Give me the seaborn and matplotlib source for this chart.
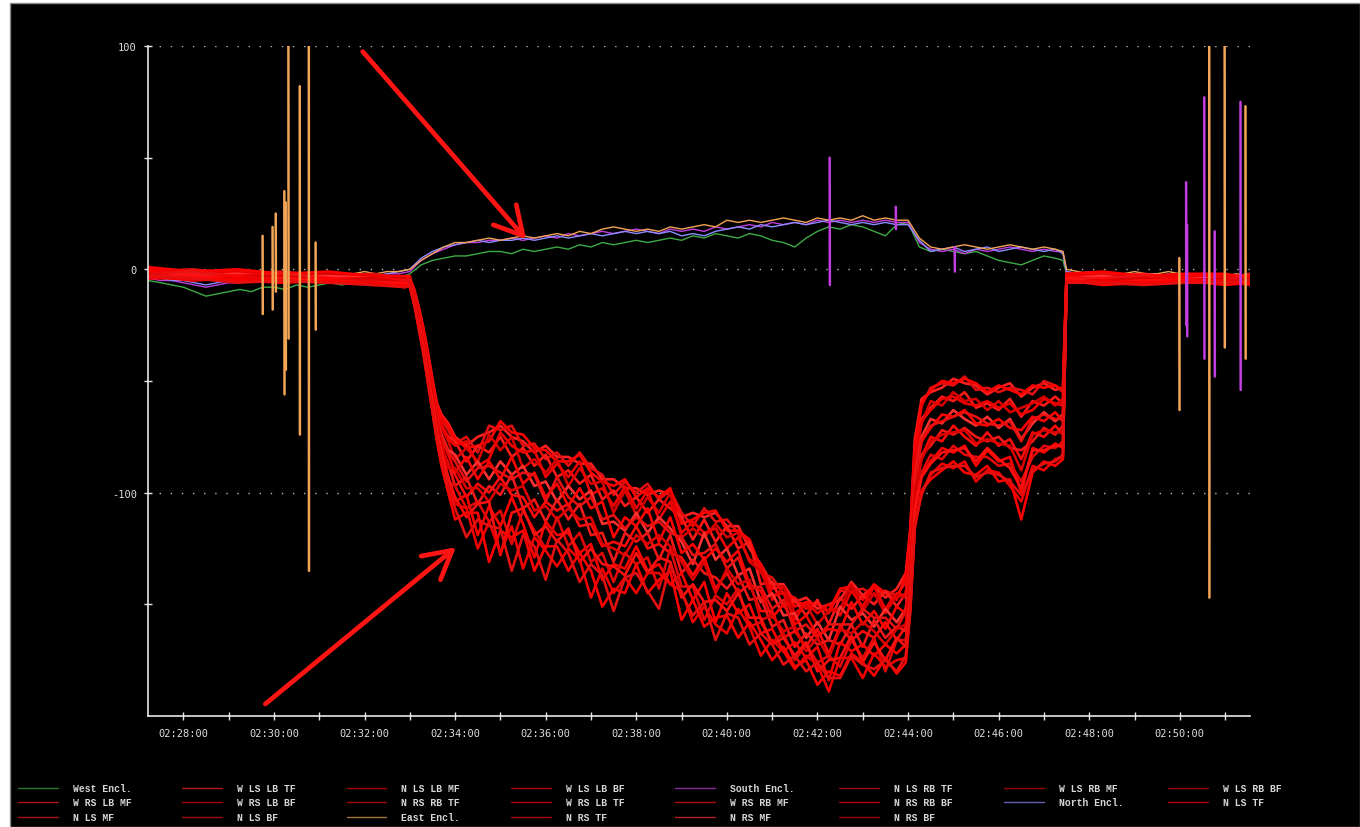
import matplotlib
matplotlib.use("Agg")
import matplotlib.pyplot as plt
from matplotlib.lines import Line2D
from matplotlib.patches import Rectangle
from matplotlib.ticker import FixedLocator
import pandas as pd
import seaborn as sns

# ---------------- data (minutes after 02:00, sensor value) ----------------
red_t = [27.22, 28.2, 29.2, 30.2, 31.2, 32.2, 32.9,
         33.0, 33.1, 33.2, 33.3, 33.4, 33.5, 33.6, 33.7, 33.85,
         34.0, 34.25, 34.5, 34.75, 35.0, 35.25, 35.5, 35.75, 36.0, 36.25,
         36.5, 36.75, 37.0, 37.25, 37.5, 37.75, 38.0, 38.25, 38.5, 38.75,
         39.0, 39.25, 39.5, 39.75, 40.0, 40.25, 40.5, 40.75, 41.0, 41.25,
         41.5, 41.75, 42.0, 42.25, 42.5, 42.75, 43.0, 43.25, 43.5, 43.75,
         43.95, 44.05, 44.15, 44.3,
         44.5, 44.75, 45.0, 45.25, 45.5, 45.75, 46.0, 46.25, 46.5, 46.75, 47.0, 47.25, 47.42,
         47.5, 48.3, 49.2, 50.1, 51.0, 51.55]

w_ls_lb_tf = [0, -1, -1, -2, -2, -3, -4,
              -4, -9, -17, -26, -37, -49, -60, -65, -69,
              -75, -79, -75, -73, -70, -75, -77, -82, -79, -84,
              -84, -87, -87, -94, -94, -98, -98, -101, -99, -101,
              -111, -109, -111, -109, -115, -115, -125, -132, -141, -141,
              -149, -147, -152, -150, -148, -140, -146, -142, -147, -143,
              -136, -116, -76, -58,
              -55, -53, -49, -51, -52, -56, -53, -51, -57, -53, -51, -54, -53,
              -2, -3, -2, -4, -3, -3]
n_ls_rb_tf = [-1, 0, -2, -1, -3, -2, -4,
              -5, -10, -19, -28, -39, -51, -62, -67, -72,
              -78, -75, -82, -70, -72, -70, -79, -78, -85, -82,
              -88, -82, -89, -92, -101, -95, -100, -96, -103, -99,
              -109, -115, -107, -113, -112, -118, -122, -136, -138, -145,
              -147, -152, -149, -154, -144, -144, -143, -146, -144, -146,
              -140, -119, -80, -61,
              -53, -51, -52, -48, -54, -53, -55, -53, -54, -56, -50, -52, -55,
              -3, -2, -3, -3, -4, -2]
w_rs_lb_tf = [1, -1, 0, -2, -1, -3, -3,
              -3, -11, -18, -27, -38, -50, -61, -66, -70,
              -76, -80, -79, -77, -68, -73, -74, -80, -81, -86,
              -86, -83, -91, -95, -97, -94, -102, -98, -102, -98,
              -114, -112, -109, -108, -117, -117, -121, -134, -143, -142,
              -151, -149, -150, -153, -143, -142, -148, -141, -145, -148,
              -137, -117, -79, -60,
              -54, -50, -51, -49, -51, -55, -52, -54, -56, -52, -53, -52, -54,
              -2, -1, -3, -2, -2, -4]
w_rs_lb_mf = [-2, -1, -3, -2, -3, -4, -5,
              -5, -11, -20, -29, -40, -52, -63, -70, -75,
              -77, -86, -79, -82, -75, -84, -80, -88, -83, -93,
              -90, -96, -92, -103, -99, -106, -102, -109, -103, -107,
              -111, -121, -112, -122, -115, -125, -122, -141, -140, -151,
              -148, -155, -148, -159, -147, -152, -146, -150, -144, -151,
              -145, -124, -87, -67,
              -62, -57, -59, -55, -62, -60, -63, -58, -66, -59, -61, -57, -60,
              -3, -4, -3, -5, -4, -3]
w_ls_rb_mf = [-1, -2, -2, -3, -2, -4, -4,
              -6, -12, -21, -30, -42, -53, -65, -71, -77,
              -85, -80, -86, -74, -81, -75, -89, -85, -91, -85,
              -97, -89, -96, -95, -109, -99, -110, -102, -109, -100,
              -120, -116, -120, -114, -120, -118, -131, -135, -148, -142,
              -154, -150, -159, -153, -152, -141, -153, -145, -154, -146,
              -147, -126, -85, -69,
              -59, -61, -55, -59, -58, -63, -59, -64, -62, -60, -57, -61, -58,
              -4, -3, -4, -3, -5, -4]
n_ls_lb_mf = [0, -2, -1, -3, -3, -3, -5,
              -4, -10, -19, -28, -41, -51, -64, -69, -76,
              -79, -77, -88, -85, -73, -79, -82, -81, -93, -87,
              -93, -86, -101, -98, -106, -97, -107, -99, -112, -104,
              -118, -113, -118, -116, -125, -120, -130, -132, -146, -145,
              -157, -149, -154, -150, -155, -144, -151, -142, -152, -145,
              -146, -125, -86, -68,
              -63, -58, -57, -60, -61, -59, -62, -60, -65, -63, -58, -60, -61,
              -2, -3, -4, -3, -3, -5]
n_rs_mf = [-2, -3, -2, -4, -3, -4, -6,
           -5, -12, -21, -31, -43, -55, -67, -74, -81,
           -83, -92, -86, -94, -86, -92, -88, -97, -95, -104,
           -97, -103, -99, -114, -113, -117, -109, -118, -111, -116,
           -122, -132, -118, -130, -125, -137, -134, -149, -145, -155,
           -154, -165, -158, -166, -151, -157, -154, -160, -152, -158,
           -152, -131, -93, -75,
           -67, -69, -63, -67, -70, -66, -71, -67, -76, -69, -64, -68, -65,
           -4, -3, -5, -4, -4, -6]
n_ls_tf = [-1, -2, -3, -3, -4, -4, -5,
           -6, -13, -22, -32, -44, -56, -68, -76, -83,
           -91, -84, -94, -86, -94, -84, -96, -91, -102, -96,
           -106, -98, -107, -104, -120, -111, -115, -107, -122, -111,
           -127, -123, -130, -125, -131, -126, -141, -144, -156, -150,
           -159, -155, -164, -161, -162, -149, -159, -153, -161, -151,
           -154, -133, -95, -77,
           -71, -65, -66, -63, -69, -70, -67, -71, -72, -66, -68, -64, -68,
           -3, -5, -4, -4, -5, -3]
n_ls_bf = [-2, -1, -3, -2, -4, -5, -5,
           -5, -12, -20, -30, -42, -54, -66, -75, -82,
           -86, -95, -89, -88, -91, -94, -91, -92, -104, -93,
           -102, -106, -102, -112, -110, -116, -111, -115, -113, -118,
           -120, -128, -127, -123, -134, -129, -143, -142, -152, -148,
           -162, -159, -165, -159, -159, -159, -152, -156, -156, -161,
           -153, -132, -94, -76,
           -70, -68, -66, -64, -66, -69, -70, -68, -77, -67, -65, -67, -67,
           -4, -4, -3, -5, -4, -4]
n_rs_tf = [-2, -3, -3, -4, -4, -5, -6,
           -6, -13, -23, -33, -45, -57, -70, -79, -88,
           -92, -102, -96, -100, -93, -101, -102, -111, -104, -108,
           -105, -115, -114, -124, -122, -124, -115, -125, -123, -127,
           -129, -137, -129, -143, -136, -145, -141, -153, -153, -165,
           -162, -169, -161, -172, -160, -166, -162, -165, -158, -166,
           -160, -138, -101, -84,
           -75, -77, -70, -75, -79, -73, -79, -76, -85, -73, -75, -70, -74,
           -5, -4, -5, -4, -6, -5]
n_ls_mf = [-3, -2, -4, -3, -4, -5, -6,
           -7, -14, -24, -34, -46, -58, -71, -80, -87,
           -97, -93, -105, -97, -101, -92, -107, -103, -113, -103,
           -112, -105, -119, -118, -131, -118, -122, -118, -130, -119,
           -136, -130, -136, -138, -143, -137, -148, -147, -160, -157,
           -169, -163, -168, -166, -168, -159, -169, -157, -165, -160,
           -162, -139, -102, -83,
           -79, -72, -74, -71, -75, -77, -75, -80, -81, -77, -71, -74, -70,
           -4, -5, -4, -6, -5, -4]
n_rs_bf = [-2, -4, -3, -3, -5, -4, -6,
           -6, -13, -22, -33, -44, -56, -69, -78, -89,
           -89, -98, -98, -104, -96, -99, -97, -108, -106, -112,
           -107, -112, -111, -123, -125, -128, -119, -123, -119, -124,
           -131, -139, -131, -145, -134, -141, -139, -157, -155, -162,
           -160, -171, -165, -174, -161, -163, -158, -162, -168, -161,
           -159, -137, -100, -85,
           -77, -74, -73, -72, -78, -76, -78, -79, -90, -74, -72, -73, -73,
           -5, -5, -4, -5, -4, -6]
w_ls_lb_bf = [-3, -4, -3, -5, -4, -6, -7,
              -7, -14, -24, -35, -47, -60, -73, -83, -94,
              -104, -101, -119, -106, -115, -102, -114, -129, -113, -119,
              -118, -127, -123, -139, -132, -134, -124, -135, -132, -141,
              -136, -148, -140, -158, -145, -154, -150, -163, -161, -171,
              -167, -174, -169, -184, -167, -171, -168, -173, -168, -172,
              -168, -145, -108, -92,
              -86, -80, -82, -79, -88, -81, -86, -84, -100, -80, -82, -78, -80,
              -5, -6, -5, -4, -6, -5]
w_ls_rb_bf = [-2, -4, -4, -4, -5, -5, -7,
              -6, -14, -25, -36, -48, -61, -74, -84, -95,
              -97, -107, -104, -113, -108, -123, -108, -117, -125, -111,
              -124, -118, -131, -127, -140, -127, -132, -129, -143, -125,
              -142, -142, -157, -146, -150, -143, -160, -158, -167, -163,
              -175, -168, -176, -173, -178, -166, -174, -165, -180, -166,
              -166, -146, -109, -91,
              -83, -85, -79, -83, -84, -84, -88, -87, -95, -84, -79, -80, -77,
              -6, -5, -6, -5, -5, -4]
w_rs_rb_mf = [-3, -3, -5, -4, -5, -6, -6,
              -7, -15, -24, -35, -47, -59, -72, -82, -93,
              -102, -111, -105, -104, -128, -109, -107, -119, -115, -122,
              -116, -131, -125, -132, -133, -137, -127, -136, -129, -131,
              -147, -141, -149, -148, -153, -145, -156, -156, -168, -165,
              -173, -167, -180, -175, -174, -164, -176, -167, -175, -165,
              -169, -144, -107, -93,
              -87, -82, -81, -80, -86, -80, -85, -89, -98, -81, -81, -79, -79,
              -4, -6, -5, -5, -6, -6]
w_rs_lb_bf = [-3, -5, -4, -5, -6, -6, -8,
              -7, -15, -26, -37, -50, -63, -76, -87, -99,
              -105, -107, -125, -113, -127, -115, -134, -120, -126, -133,
              -125, -130, -147, -134, -145, -138, -145, -136, -136, -141,
              -144, -158, -151, -159, -163, -152, -160, -173, -166, -171,
              -179, -173, -177, -189, -174, -174, -183, -172, -178, -175,
              -174, -152, -115, -100,
              -92, -87, -89, -86, -95, -90, -91, -97, -104, -88, -90, -85, -84,
              -6, -5, -6, -6, -5, -7]
n_rs_rb_bf = [-4, -4, -5, -6, -5, -7, -7,
              -8, -16, -27, -38, -51, -64, -77, -88, -100,
              -112, -109, -109, -131, -117, -120, -117, -135, -124, -124,
              -135, -127, -135, -151, -143, -145, -132, -145, -139, -135,
              -157, -148, -160, -156, -155, -165, -158, -166, -175, -169,
              -178, -175, -186, -180, -182, -172, -176, -182, -174, -181,
              -176, -153, -116, -99,
              -94, -90, -86, -91, -92, -88, -95, -94, -112, -91, -86, -88, -85,
              -5, -7, -6, -5, -7, -6]
n_rs_rb_tf = [-3, -4, -6, -5, -6, -7, -8,
              -7, -16, -26, -37, -50, -63, -75, -86, -98,
              -107, -120, -112, -115, -116, -135, -119, -124, -139, -121,
              -127, -140, -132, -137, -153, -138, -136, -144, -152, -132,
              -145, -155, -149, -166, -154, -156, -168, -163, -168, -177,
              -173, -180, -176, -183, -183, -173, -177, -179, -175, -180,
              -173, -151, -114, -101,
              -91, -89, -88, -88, -93, -91, -92, -95, -101, -90, -87, -86, -83,
              -6, -6, -7, -6, -6, -5]

encl_t = [27.22, 27.5, 27.75, 28.0, 28.25, 28.5, 28.75, 29.0, 29.25, 29.5,
          29.75, 30.0, 30.25, 30.5, 30.75, 31.0, 31.25, 31.5, 31.75, 32.0,
          32.25, 32.5, 32.75, 33.0, 33.25, 33.5, 33.75, 34.0, 34.25, 34.5,
          34.75, 35.0, 35.25, 35.5, 35.75, 36.0, 36.25, 36.5, 36.75, 37.0,
          37.25, 37.5, 37.75, 38.0, 38.25, 38.5, 38.75, 39.0, 39.25, 39.5,
          39.75, 40.0, 40.25, 40.5, 40.75, 41.0, 41.25, 41.5, 41.75, 42.0,
          42.25, 42.5, 42.75, 43.0, 43.25, 43.5, 43.75, 44.0, 44.25, 44.5,
          44.75, 45.0, 45.25, 45.5, 45.75, 46.0, 46.25, 46.5, 46.75, 47.0,
          47.25, 47.42, 47.5, 47.75, 48.0, 48.25, 48.5, 48.75, 49.0, 49.25,
          49.5, 49.75, 50.0, 50.25, 50.5, 50.75, 51.0, 51.25, 51.55]
west_encl = [-5, -6, -7, -8, -10, -12, -11, -10, -9, -10,
             -8, -8, -9, -7, -8, -7, -6, -7, -6, -5,
             -5, -4, -4, -2, 2, 4, 5, 6, 6, 7,
             8, 8, 7, 9, 8, 9, 10, 9, 11, 10,
             12, 11, 12, 13, 12, 13, 14, 13, 15, 14,
             16, 15, 14, 16, 15, 13, 12, 10, 14, 17,
             19, 18, 20, 19, 17, 15, 20, 21, 10, 8,
             9, 8, 7, 8, 6, 4, 3, 2, 4, 6,
             5, 4, -2, -3, -2, -3, -4, -3, -2, -3,
             -4, -3, -3, -4, -2, -3, -4, -3, -4]
south_encl = [-4, -5, -5, -6, -7, -8, -7, -6, -6, -5,
              -5, -4, -5, -4, -4, -5, -4, -3, -4, -3,
              -3, -2, -2, -1, 4, 7, 9, 11, 12, 12,
              13, 13, 14, 13, 14, 15, 14, 16, 15, 16,
              17, 16, 17, 18, 17, 16, 18, 17, 18, 17,
              19, 18, 19, 20, 19, 21, 20, 21, 20, 22,
              21, 22, 21, 22, 21, 22, 21, 21, 12, 9,
              8, 9, 7, 9, 8, 9, 10, 9, 8, 9,
              8, 8, -1, -2, -2, -3, -2, -3, -2, -3,
              -3, -2, -3, -4, -3, -3, -4, -3, -4]
north_encl = [-3, -4, -5, -5, -6, -7, -6, -5, -5, -4,
              -4, -5, -4, -3, -4, -3, -4, -3, -3, -2,
              -3, -2, -1, 0, 5, 8, 10, 11, 12, 13,
              12, 13, 13, 14, 13, 14, 15, 14, 15, 16,
              15, 16, 17, 16, 17, 16, 17, 15, 16, 15,
              17, 18, 19, 18, 20, 19, 20, 21, 20, 21,
              22, 21, 20, 21, 20, 21, 20, 20, 13, 8,
              9, 10, 8, 9, 10, 8, 9, 10, 9, 8,
              9, 7, -1, -2, -1, -2, -3, -2, -2, -3,
              -2, -3, -2, -3, -3, -2, -3, -4, -3]
east_encl = [-1, -2, -2, -3, -4, -4, -3, -3, -4, -3,
             -2, -3, -3, -2, -3, -2, -3, -2, -2, -1,
             -2, -1, -1, 0, 4, 7, 10, 12, 12, 13,
             14, 13, 14, 15, 14, 15, 16, 15, 17, 16,
             18, 19, 18, 17, 18, 17, 19, 18, 19, 20,
             19, 22, 21, 22, 21, 22, 23, 22, 21, 23,
             22, 23, 22, 24, 22, 23, 22, 22, 14, 10,
             9, 10, 11, 10, 9, 10, 11, 10, 9, 10,
             9, 8, 0, -1, -2, -1, -2, -2, -1, -2,
             -2, -1, -2, -3, -2, -2, -3, -2, -3]

# short spikes (time, top value, bottom value)
east_spike_t = [29.75, 29.97, 30.04, 30.23, 30.26, 30.32, 30.57, 30.77, 30.92, 49.99, 50.65, 50.99, 51.45]
east_spike_hi = [15, 19, 25, 35, 30, 100, 82, 100, 12, 5, 100, 100, 73]
east_spike_lo = [-20, -18, -10, -56, -45, -31, -74, -135, -27, -63, -147, -35, -40]
south_spike_t = [42.27, 43.73, 45.03, 50.14, 50.16, 50.54, 50.77, 51.34]
south_spike_hi = [50, 28, 10, 39, 20, 77, 17, 75]
south_spike_lo = [-7, 18, -1, -25, -30, -40, -48, -54]

x_ticks = [28, 30, 32, 34, 36, 38, 40, 42, 44, 46, 48, 50]
x_tick_labels = ["02:28:00", "02:30:00", "02:32:00", "02:34:00", "02:36:00", "02:38:00",
                 "02:40:00", "02:42:00", "02:44:00", "02:46:00", "02:48:00", "02:50:00"]
x_minor = [29, 31, 33, 35, 37, 39, 41, 43, 45, 47, 49, 51]
y_ticks = [-100, 0, 100]
y_minor = [-150, -50, 50]

legend_order = ["West Encl.", "W RS LB MF", "N LS MF",
                "W LS LB TF", "W RS LB BF", "N LS BF",
                "N LS LB MF", "N RS RB TF", "East Encl.",
                "W LS LB BF", "W RS LB TF", "N RS TF",
                "South Encl.", "W RS RB MF", "N RS MF",
                "N LS RB TF", "N RS RB BF", "N RS BF",
                "W LS RB MF", "North Encl.",
                "W LS RB BF", "N LS TF"]

red_series = {
    "W LS LB TF": w_ls_lb_tf, "N LS RB TF": n_ls_rb_tf, "W RS LB TF": w_rs_lb_tf,
    "W RS LB MF": w_rs_lb_mf, "W LS RB MF": w_ls_rb_mf, "N LS LB MF": n_ls_lb_mf,
    "N RS MF": n_rs_mf, "N LS TF": n_ls_tf, "N LS BF": n_ls_bf,
    "N RS TF": n_rs_tf, "N LS MF": n_ls_mf, "N RS BF": n_rs_bf,
    "W LS LB BF": w_ls_lb_bf, "W LS RB BF": w_ls_rb_bf, "W RS RB MF": w_rs_rb_mf,
    "W RS LB BF": w_rs_lb_bf, "N RS RB BF": n_rs_rb_bf, "N RS RB TF": n_rs_rb_tf,
}
encl_series = {"West Encl.": west_encl, "South Encl.": south_encl,
               "North Encl.": north_encl, "East Encl.": east_encl}

palette = {
    "West Encl.": "#3daa45", "South Encl.": "#c23ee0", "North Encl.": "#8c8cff",
    "East Encl.": "#f2a555",
    "W LS LB TF": "#ff2020", "N LS RB TF": "#e01010", "W RS LB TF": "#ff0000",
    "W RS LB MF": "#ff1a1a", "W LS RB MF": "#d60000", "N LS LB MF": "#ee0000",
    "N RS MF": "#ff3030", "N LS TF": "#ff0000", "N LS BF": "#e81010",
    "N RS TF": "#ff0a0a", "N LS MF": "#f01818", "N RS BF": "#dd0000",
    "W LS LB BF": "#ff0000", "W LS RB BF": "#e00808", "W RS RB MF": "#ff1010",
    "W RS LB BF": "#f00000", "N RS RB BF": "#ff0000", "N RS RB TF": "#e41010",
}

# ---------------- build tables ----------------
red_df = pd.concat([pd.DataFrame({"time": red_t, "value": v, "sensor": k})
                    for k, v in red_series.items()], ignore_index=True)
encl_df = pd.concat([pd.DataFrame({"time": encl_t, "value": v, "sensor": k})
                     for k, v in encl_series.items()], ignore_index=True)
spike_rows = []
uid = 0
for name, ts, his, los in [("East Encl.", east_spike_t, east_spike_hi, east_spike_lo),
                           ("South Encl.", south_spike_t, south_spike_hi, south_spike_lo)]:
    for t, hi, lo in zip(ts, his, los):
        spike_rows.append({"time": t, "value": hi, "sensor": name, "spike": uid})
        spike_rows.append({"time": t + 0.004, "value": lo, "sensor": name, "spike": uid})
        uid += 1
spike_df = pd.DataFrame(spike_rows)

# ---------------- figure ----------------
sns.set_style("ticks")
plt.rcParams["font.family"] = ["DejaVu Sans Mono", "DejaVu Sans"]
plt.rcParams["axes.unicode_minus"] = False

W, H = 1360, 828
fig = plt.figure(figsize=(W / 100, H / 100), dpi=100, facecolor="white")
fig.add_artist(Rectangle((10 / W, 0), 1 - 10 / W, 1 - 4 / H, transform=fig.transFigure,
                         facecolor="black", edgecolor="#8a8a8a", lw=1.0, zorder=-5))
ax = fig.add_axes([148 / W, 1 - 717 / H, (1250 - 148) / W, (717 - 47) / H])
ax.set_facecolor("black")

sns.lineplot(data=encl_df, x="time", y="value", hue="sensor", palette=palette,
             estimator=None, lw=1.0, legend=False, ax=ax)
sns.lineplot(data=red_df, x="time", y="value", hue="sensor", palette=palette,
             estimator=None, lw=1.9, legend=False, ax=ax)
sns.lineplot(data=spike_df, x="time", y="value", hue="sensor", units="spike", palette=palette,
             estimator=None, lw=1.8, legend=False, ax=ax, sort=False)

ax.set_xlim(27.22, 51.55)
ax.set_ylim(-200, 100)
for s in ["top", "right"]:
    ax.spines[s].set_visible(False)
for s in ["left", "bottom"]:
    ax.spines[s].set_color("#e6e6e6")
    ax.spines[s].set_linewidth(1.2)
ax.xaxis.set_major_locator(FixedLocator(x_ticks))
ax.xaxis.set_minor_locator(FixedLocator(x_minor))
ax.set_xticklabels(x_tick_labels)
ax.yaxis.set_major_locator(FixedLocator(y_ticks))
ax.yaxis.set_minor_locator(FixedLocator(y_minor))
ax.tick_params(which="both", direction="inout", color="#e6e6e6", length=6, width=1)
ax.tick_params(which="major", labelcolor="#dedede", labelsize=7.5)
ax.tick_params(axis="x", pad=6)
ax.tick_params(axis="y", pad=5)
ax.grid(axis="y", which="major", color="#b8b8b8", linestyle=(0, (1, 7)), lw=1.0)
ax.grid(axis="x", visible=False)
ax.set_axisbelow(True)
ax.set_xlabel("")
ax.set_ylabel("")

arrow_kw = dict(arrowstyle="->,head_length=1.0,head_width=0.55", color="#ff1414",
                lw=3.4, mutation_scale=20, shrinkA=0, shrinkB=0)
ax.annotate("", xy=(35.57, 13.4), xytext=(31.96, 97.5), arrowprops=arrow_kw)
ax.annotate("", xy=(34.02, -124.4), xytext=(29.81, -194.6), arrowprops=arrow_kw)

handles = [Line2D([0], [0], color=palette[n], lw=1.0, alpha=0.7) for n in legend_order]
labels = [n.ljust(11) for n in legend_order]
fig.legend(handles, labels, ncol=8, loc="upper left",
           bbox_to_anchor=(18 / W, 1 - 784 / H), frameon=False,
           prop={"family": "Liberation Mono", "weight": "bold", "size": 7},
           labelcolor="#d6d6d6", handlelength=4.1, handletextpad=1.55,
           columnspacing=4.6, labelspacing=0.46, borderpad=0, borderaxespad=0)

fig.savefig("out.png", dpi=100, facecolor=fig.get_facecolor())
